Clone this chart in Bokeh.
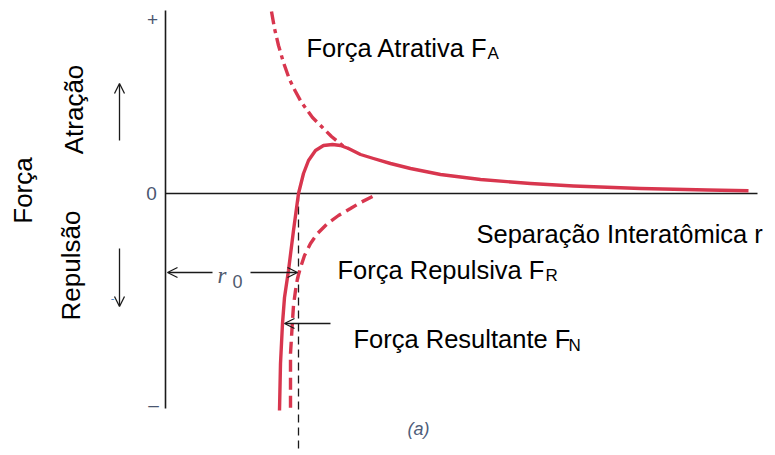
import math
from bokeh.plotting import figure
from bokeh.models import Range1d, Arrow, OpenHead
from bokeh.core.properties import value
from bokeh.embed import file_html
from bokeh.resources import INLINE

# Interatomic separation r (arbitrary units) and force F (arbitrary units, + = attraction)
attractive_r = [106, 109, 113, 118, 124, 130, 136, 147, 157, 166, 177, 183]
attractive_F = [182, 165, 148, 131, 114, 102, 91, 76, 66, 57, 48, 45]

net_r = [114, 115, 117, 119, 123, 128, 133, 138, 143, 150, 158, 167, 175, 183,
         195, 208, 225, 245, 275, 315, 365, 408, 475, 542, 583]
net_F = [-217, -170, -130, -104, -77, -37, 0, 20, 33, 43, 48, 49, 48, 45,
         39, 35, 30, 25, 19, 14, 10, 7.5, 5, 3.5, 2.7]

repulsive_r = [207, 195, 185, 173, 162, 152, 145, 139, 135, 132, 130, 128, 127, 126, 125, 125, 125]
repulsive_F = [-3, -9, -15, -22, -30, -40, -50, -62, -74, -85, -97, -112, -127, -144, -160, -187, -217]

r0 = 133                      # equilibrium separation (net force = 0)
force_axis_F = [183, -215]    # extent of the force axis
sep_axis_r = [0, 592]         # extent of the separation axis

tick_F = [174, 0, -211]
tick_labels = ["+", "0", "\u2013"]

RED = "#d8364e"
INK = "#1a1a1a"
SANS = value("Liberation Sans")

p = figure(width=775, height=455, output_backend="svg", toolbar_location=None,
           x_range=Range1d(-165, 610), y_range=Range1d(-262, 193),
           x_axis_location=None, y_axis_location=None, min_border=0)
p.grid.visible = False
p.outline_line_color = None
p.background_fill_color = "white"
p.border_fill_color = "white"

# axes
p.line([0, 0], force_axis_F, line_color=INK, line_width=1.6)
p.line(sep_axis_r, [0, 0], line_color=INK, line_width=1.4)
p.line([r0, r0], [0, -259], line_color=INK, line_width=1.3, line_dash="8 5")

# force curves
p.line(attractive_r, attractive_F, line_color=RED, line_width=3.4, line_dash="13 5 4 5")
p.line(repulsive_r, repulsive_F, line_color=RED, line_width=3.4, line_dash="12 6")
p.line(net_r, net_F, line_color=RED, line_width=3.4, line_join="round")

# tick marks on the force axis
p.text(x=[-13, -14, -12], y=tick_F, text=tick_labels, text_font=SANS,
       text_font_size="19px", text_align="center", text_baseline="middle",
       text_color="#4a5670")

# arrows
def arrow(x0, y0, x1, y1, size=10):
    p.add_layout(Arrow(end=OpenHead(size=size, line_width=1.3, line_color=INK),
                       x_start=x0, y_start=y0, x_end=x1, y_end=y1,
                       line_width=1.3, line_color=INK))

arrow(-46, 53, -46, 110)
arrow(-46, -55, -46, -113)
arrow(47, -79, 2, -79)
arrow(85, -79, r0 - 1, -79)
arrow(165, -130, 119, -130)

# r0 label
p.text(x=[52], y=[-82], text=["r"], text_font=value("Liberation Serif"),
       text_font_style="italic", text_font_size="23px", text_align="left",
       text_baseline="alphabetic", text_color="#4f5a6e")
p.text(x=[67], y=[-88], text=["0"], text_font=SANS, text_font_size="18px",
       text_align="left", text_baseline="alphabetic", text_color="#4f5a6e")

# curve labels with subscripts
p.text(x=[141, 172, 188, 311], y=[146, -76, -145, -40],
       text=["Força Atrativa F", "Força Repulsiva F", "Força Resultante F",
             "Separação Interatômica r"],
       text_font=SANS, text_font_size="25.5px", text_align="left",
       text_baseline="alphabetic", text_color="black")
p.text(x=[322, 380, 403], y=[140, -82, -152], text=["A", "R", "N"],
       text_font=SANS, text_font_size="17px", text_align="left",
       text_baseline="alphabetic", text_color="black")

# vertical labels
p.text(x=[-92, -95, -143], y=[84, -72, 3], text=["Atração", "Repulsão", "Força"],
       angle=math.pi / 2, text_font=SANS, text_font_size="26px",
       text_align="center", text_baseline="alphabetic", text_color="black")
p.text(x=[-53], y=[-104], text=["-"], text_font=SANS, text_font_size="11px",
       text_align="center", text_baseline="middle", text_color="#3b7bbf")

# panel tag
p.text(x=[253], y=[-235], text=["(a)"], text_font=SANS, text_font_style="italic",
       text_font_size="18px", text_align="center", text_baseline="middle",
       text_color="#4e5d7a")

open("out.html", "w").write(file_html(p, INLINE))
